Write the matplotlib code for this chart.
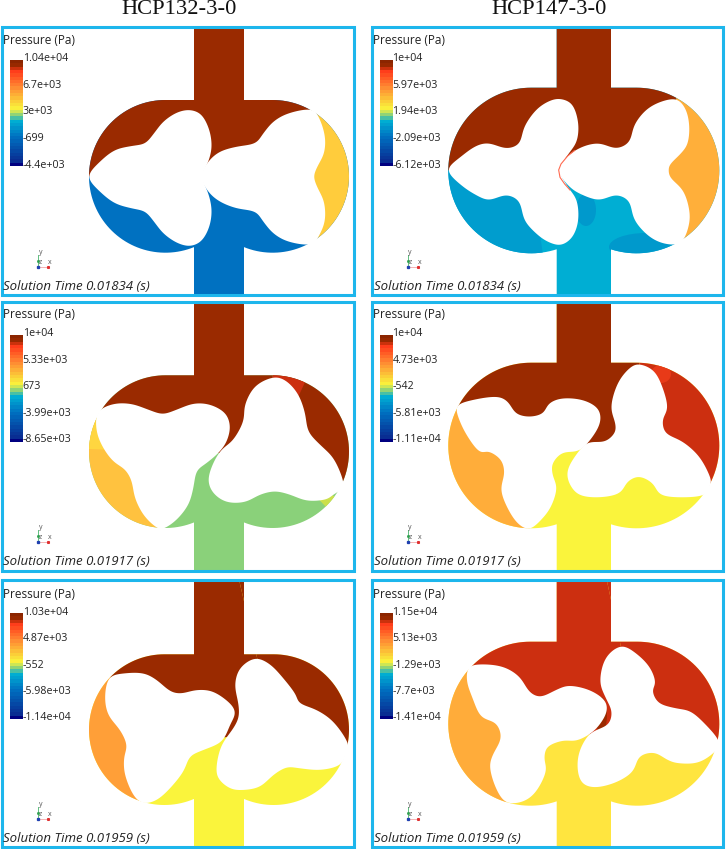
import numpy as np
import matplotlib
matplotlib.use('Agg')
import matplotlib.pyplot as plt
from matplotlib.colors import LinearSegmentedColormap
from matplotlib.patches import Polygon, Ellipse, Rectangle

# titles and legend text
titles = ['HCP132-3-0', 'HCP147-3-0']
title_x = [179.3, 549.3]
times = ['0.01834', '0.01917', '0.01959']
tick_labels = [
    [['1.04e+04', '6.7e+03', '3e+03', '-699', '-4.4e+03'],
     ['1e+04', '5.97e+03', '1.94e+03', '-2.09e+03', '-6.12e+03']],
    [['1e+04', '5.33e+03', '673', '-3.99e+03', '-8.65e+03'],
     ['1e+04', '4.73e+03', '-542', '-5.81e+03', '-1.11e+04']],
    [['1.03e+04', '4.87e+03', '-552', '-5.98e+03', '-1.14e+04'],
     ['1.15e+04', '5.13e+03', '-1.29e+03', '-7.7e+03', '-1.41e+04']],
]

# layout, in pixels
frame_x = [(1.7, 354), (372, 722.7)]
frame_y = [(26.5, 294.5), (302, 570.7), (580, 846.7)]
casing_x = [(89, 349), (448.3, 719.3)]
casing_y = [[(100, 252.7), (87.7, 253.3)],
            [(375.3, 528), (362.7, 528.3)],
            [(654.3, 805), (641.7, 805.7)]]
pipe_x = [(194, 244), (556.7, 611)]
contact = [[(201.7, 176.7), (558.7, 170.7)],
           [(218.3, 453), (582, 448.3)],
           [(225, 737.3), (588.7, 734.3)]]

crop_origin = [[(0, 20), (366, 20)], [(0, 298), (366, 300)], [(0, 575), (366, 575)]]
rotor_11_left = [(265, 470), (300, 425), (345, 390), (395, 378), (435, 370), (462, 340), (490, 305), (530, 278),
                 (570, 270), (605, 285), (628, 330), (635, 380), (625, 425), (606, 470), (625, 520), (635, 570),
                 (628, 620), (605, 662), (570, 678), (530, 668), (490, 640), (462, 605), (435, 575), (395, 565),
                 (345, 550), (300, 515)]
rotor_11_right = [(603, 470), (625, 425), (660, 395), (710, 380), (765, 370), (790, 340), (820, 305), (865, 280),
                  (932, 268), (958, 295), (975, 350), (972, 400), (952, 440), (942, 470), (952, 502), (972, 545),
                  (975, 600), (958, 645), (932, 674), (865, 665), (820, 640), (790, 605), (765, 575), (710, 565),
                  (660, 545), (625, 515)]
rotor_12_left = [(245, 450), (285, 410), (330, 378), (370, 370), (420, 385), (460, 370), (475, 320), (510, 270),
                 (550, 243), (585, 237), (620, 255), (637, 310), (632, 365), (605, 405), (580, 450), (605, 500),
                 (632, 540), (637, 600), (620, 650), (585, 675), (545, 665), (510, 640), (475, 600), (460, 545),
                 (420, 525), (370, 540), (330, 525), (285, 495)]
rotor_12_right = [(576, 450), (605, 408), (650, 380), (700, 370), (750, 385), (790, 365), (805, 315), (840, 270),
                  (885, 245), (932, 238), (960, 270), (970, 320), (965, 370), (945, 400), (915, 430), (908, 450),
                  (915, 475), (950, 510), (968, 560), (970, 610), (947, 667), (900, 672), (850, 650), (805, 600),
                  (790, 545), (750, 525), (700, 540), (650, 525), (610, 500)]
rotor_21_left = [(293, 343), (340, 318), (395, 318), (445, 335), (488, 348), (530, 335), (580, 317), (630, 320),
                 (675, 345), (690, 385), (680, 430), (655, 465), (620, 495), (590, 520), (580, 570), (565, 620),
                 (530, 665), (490, 692), (465, 685), (430, 650), (405, 600), (395, 550), (375, 515), (340, 490),
                 (310, 450), (290, 400)]
rotor_21_right = [(820, 238), (860, 250), (895, 290), (915, 345), (925, 400), (960, 440), (1000, 480), (1027, 540),
                  (1027, 570), (1000, 590), (975, 605), (920, 608), (870, 590), (825, 580), (780, 590), (735, 612),
                  (680, 612), (640, 585), (625, 545), (640, 495), (665, 455), (700, 425), (730, 370), (735, 320),
                  (765, 265)]
rotor_22_left = [(273, 318), (320, 300), (390, 290), (425, 305), (450, 340), (490, 350), (530, 340), (550, 310),
                 (590, 295), (650, 300), (695, 325), (703, 365), (680, 410), (640, 452), (590, 458), (560, 490),
                 (560, 525), (572, 565), (555, 620), (525, 660), (490, 687), (455, 670), (425, 625), (405, 570),
                 (415, 520), (405, 480), (370, 455), (340, 455), (305, 410), (280, 360)]
rotor_22_right = [(820, 193), (860, 210), (885, 250), (905, 320), (890, 360), (900, 400), (950, 425), (1000, 470),
                  (1032, 530), (1032, 555), (1015, 585), (950, 592), (885, 585), (860, 550), (820, 530), (785, 545),
                  (760, 580), (700, 592), (640, 585), (610, 550), (605, 510), (630, 465), (665, 428), (715, 425),
                  (745, 400), (748, 370), (735, 320), (755, 250), (790, 205)]
rotor_31_left = [(328, 308), (375, 295), (430, 295), (470, 315), (510, 348), (545, 355), (590, 345), (640, 350),
                 (690, 385), (705, 415), (690, 450), (665, 500), (610, 525), (570, 545), (550, 590), (510, 640),
                 (470, 675), (430, 684), (400, 660), (375, 600), (372, 550), (380, 510), (360, 465), (325, 420),
                 (315, 365)]
rotor_31_right = [(765, 250), (810, 268), (850, 310), (885, 355), (900, 385), (950, 405), (1000, 440), (1042, 500),
                  (1040, 530), (1020, 570), (960, 585), (900, 580), (860, 577), (820, 600), (780, 635), (730, 645),
                  (690, 640), (655, 610), (650, 570), (665, 510), (700, 460), (716, 425), (715, 385), (705, 330),
                  (720, 280)]
rotor_32_left = [(308, 278), (345, 268), (410, 275), (460, 305), (490, 350), (525, 365), (570, 345), (610, 332),
                 (670, 345), (715, 375), (722, 410), (700, 450), (670, 478), (630, 497), (590, 497), (545, 515),
                 (535, 550), (540, 590), (510, 650), (470, 680), (420, 682), (390, 640), (372, 580), (380, 540),
                 (405, 490), (390, 445), (345, 425), (320, 370), (303, 320)]
rotor_32_right = [(765, 213), (810, 235), (850, 275), (868, 320), (860, 350), (880, 385), (930, 400), (975, 410),
                  (1020, 450), (1057, 495), (1052, 525), (1000, 562), (940, 565), (905, 555), (865, 533), (820, 545),
                  (800, 590), (750, 622), (690, 637), (650, 625), (635, 585), (640, 530), (672, 475), (725, 450),
                  (737, 410), (720, 370), (702, 320), (718, 250)]
rotors = [[(rotor_11_left, rotor_11_right), (rotor_12_left, rotor_12_right)],
          [(rotor_21_left, rotor_21_right), (rotor_22_left, rotor_22_right)],
          [(rotor_31_left, rotor_31_right), (rotor_32_left, rotor_32_right)]]
contact_arc_12 = [(625, 392), (605, 408), (585, 432), (578, 450), (582, 472), (596, 492), (612, 510)]

# chamber boundaries (degrees) and colours
left_wedge = [[(180, 180), (180, 278)],
              [(150, 266), (152, 269)],
              [(136, 254), (138, 253)]]
right_wedge = [[(-61, 61), (-58, 61)],
               [(-25, 90), (-29, 88)],
               [(-12, 103), (-15, 102)]]
BROWN = '#9A2A00'
RED = '#CC2F10'
top_color = [[BROWN, BROWN], [BROWN, BROWN], [BROWN, RED]]
bottom_color = [['#0071C1', '#00AED3'], ['#8AD17A', '#FAF43C'], ['#FAF43C', '#FFE53F']]
left_color = [['#0071C1', '#009DCE'], ['#FFC23F', '#FFAD3A'], ['#FF9F38', '#FFAC3A']]
right_color = [['#FFCC3C', '#FFAF3A'], [BROWN, RED], [BROWN, RED]]

# small patches of other pressure inside a chamber
extras = {
    (0, 1): [('ell', 646, 247, 74, 28, '#0099CC'), ('ell', 586, 210, 20, 32, '#0099CC')],
    (1, 0): [('wedge', 'L', 150, 178, '#FFD640'), ('wedge', 'R', 65, 90, RED),
             ('wedge', 'R', -46, -36, '#CBE04A')],
    (1, 1): [('ell', 661, 374, 20, 18, '#E83A18')],
    (2, 1): [('ell', 601, 715, 12, 36, BROWN)],
}

# colour bar
bar_stops = [0, .02, .27, .42, .48, .54, .75, .91, .96, 1]
bar_colors = ['#000080', '#0A2A90', '#0071C1', '#00AED3', '#8AD17A', '#FAF43C',
              '#FF8A33', '#FF3A1A', '#9A2A00', '#8B2500']
label_y = [40, 315, 594]
bar_y = [(60, 166), (335, 441.5), (613.5, 719)]
tick_y = [(58.5, 165), (333.7, 439.7), (612.3, 717.7)]
time_y = [286.7, 561.5, 838.3]
bar_x = [(10, 22.7), (380.3, 392.5)]
triad_x = [38.3, 408]
triad_y = [267.3, 542.3, 819.3]


def polar(cx, cy, r, deg):
    a = np.radians(deg)
    return cx + r * np.cos(a), cy - r * np.sin(a)


def smooth_closed(pts, n=12, win=15):
    # closed Catmull-Rom through the traced points, then a light moving average
    p = np.array(pts, dtype=float)
    out = []
    t = np.linspace(0, 1, n, endpoint=False)[:, None]
    for i in range(len(p)):
        p0, p1, p2, p3 = p[i - 1], p[i], p[(i + 1) % len(p)], p[(i + 2) % len(p)]
        out.append(0.5 * (2 * p1 + (p2 - p0) * t + (2 * p0 - 5 * p1 + 4 * p2 - p3) * t ** 2
                          + (3 * p1 - p0 - 3 * p2 + p3) * t ** 3))
    curve = np.vstack(out)
    w = np.hanning(win + 2)[1:-1]
    w = w / w.sum()
    wrapped = np.vstack([curve[-win:], curve, curve[:win]])
    xs = np.convolve(wrapped[:, 0], w, mode='same')[win:-win]
    ys = np.convolve(wrapped[:, 1], w, mode='same')[win:-win]
    return np.column_stack([xs, ys])


def casing_outline(x0, x1, y0, y1, px, fy):
    R = (y1 - y0) / 2
    cy = (y0 + y1) / 2
    lx, rx = x0 + R, x1 - R
    # bottom of the casing meets the pipe where the circles reach its walls
    a_r = np.degrees(np.arcsin(np.clip((rx - px[1]) / R, -1, 1)))
    a_l = np.degrees(np.arcsin(np.clip((px[0] - lx) / R, -1, 1)))
    pts = [(lx, y0), (px[0], y0), (px[0], fy[0]), (px[1], fy[0]), (px[1], y0), (rx, y0)]
    d = np.linspace(90, -90 - a_r, 80)
    pts += list(zip(*polar(rx, cy, R, d)))
    pts += [(px[1], fy[1]), (px[0], fy[1])]
    d = np.linspace(-90 + a_l, -270, 80)
    pts += list(zip(*polar(lx, cy, R, d)))
    return pts


def sector(cx, cy, a, b):
    d = np.linspace(a, b, 40)
    x, y = polar(cx, cy, 600, d)
    return [(cx, cy)] + list(zip(x, y))


cmap = LinearSegmentedColormap.from_list('pressure', list(zip(bar_stops, bar_colors)), N=32)

fig = plt.figure(figsize=(7.26, 8.49), dpi=100)
ax = fig.add_axes([0, 0, 1, 1])
gradient = np.linspace(1, 0, 64).reshape(-1, 1)

for r in range(3):
    for c in range(2):
        x0, x1 = casing_x[c]
        y0, y1 = casing_y[r][c]
        R = (y1 - y0) / 2
        cy = (y0 + y1) / 2
        lx, rx = x0 + R, x1 - R
        fx, fy = frame_x[c], frame_y[r]
        org = np.array(crop_origin[r][c], dtype=float)

        clip = Polygon(casing_outline(x0, x1, y0, y1, pipe_x[c], fy), closed=True,
                       fill=False, edgecolor='none', zorder=1)
        ax.add_patch(clip)

        # lower chamber, then upper chamber and pipe
        patches = [Rectangle((fx[0], fy[0]), fx[1] - fx[0], fy[1] - fy[0],
                             facecolor=bottom_color[r][c], edgecolor='none', zorder=1)]
        ul = left_wedge[r][c][0]
        ur = right_wedge[r][c][1]
        top = [(lx, cy), polar(lx, cy, 600, ul), (lx - 700, -600), (rx + 700, -600),
               polar(rx, cy, 600, ur), (rx, cy), contact[r][c]]
        patches.append(Polygon(top, closed=True, facecolor=top_color[r][c], edgecolor='none', zorder=2))
        a, b = left_wedge[r][c]
        if a != b:
            patches.append(Polygon(sector(lx, cy, a, b), closed=True, facecolor=left_color[r][c],
                                   edgecolor='none', zorder=2))
        a, b = right_wedge[r][c]
        patches.append(Polygon(sector(rx, cy, a, b), closed=True, facecolor=right_color[r][c],
                               edgecolor='none', zorder=2))

        for e in extras.get((r, c), []):
            if e[0] == 'ell':
                patches.append(Ellipse((e[1], e[2]), e[3], e[4], facecolor=e[5], edgecolor='none', zorder=3))
            else:
                ox = lx if e[1] == 'L' else rx
                patches.append(Polygon(sector(ox, cy, e[2], e[3]), closed=True, facecolor=e[4],
                                       edgecolor='none', zorder=3))
        for p in patches:
            ax.add_patch(p)
            p.set_clip_path(clip)

        # white rotors over the fluid
        for outline in rotors[r][c]:
            xy = org + smooth_closed(outline) / 3
            ax.fill(xy[:, 0], xy[:, 1], color='white', lw=0, zorder=4)
        if (r, c) == (0, 1):
            arc = org + np.array(contact_arc_12, dtype=float) / 3
            ax.plot(arc[:, 0], arc[:, 1], color='#FF6A50', lw=0.8, zorder=5)

        # frame
        ax.add_patch(Rectangle((fx[0], fy[0]), fx[1] - fx[0], fy[1] - fy[0], fill=False,
                               edgecolor='#1DB6EC', lw=2.2, zorder=6))

        # legend
        ax.text(fx[0] + 1, label_y[r], 'Pressure (Pa)', family='Open Sans', fontsize=8.5,
                color='#222222', va='center', ha='left', zorder=7)
        bx, by = bar_x[c], bar_y[r]
        ax.imshow(gradient, cmap=cmap, vmin=0, vmax=1, aspect='auto', interpolation='nearest',
                  extent=(bx[0], bx[1], by[1], by[0]), zorder=7)
        ty = np.linspace(tick_y[r][0], tick_y[r][1], 5)
        for lab, y in zip(tick_labels[r][c], ty):
            ax.text(bx[1], y, lab, family='Open Sans', fontsize=7.7, color='#222222',
                    va='center', ha='left', zorder=7)
        ax.text(fx[0] + 1.5, time_y[r], f'Solution Time {times[r]} (s)', family='Open Sans',
                style='italic', fontsize=9.5, color='#222222', va='center', ha='left', zorder=7)

        # coordinate triad
        ox, oy = triad_x[c], triad_y[r]
        ax.plot([ox, ox + 10], [oy, oy], color='#F5B5B5', lw=0.7, zorder=7)
        ax.plot([ox, ox], [oy, oy - 12], color='#60C080', lw=0.7, zorder=7)
        ax.plot([ox + 10], [oy], marker='s', ms=1.2, color='#E03030', zorder=7)
        ax.plot([ox], [oy - 6], marker='s', ms=1.0, color='#30A050', zorder=7)
        ax.plot([ox], [oy], marker='s', ms=1.4, color='#2040B0', zorder=7)
        for lab, dx, dy in [('x', 11.5, -4.5), ('y', 2, -14.5), ('z', 2, -4.5)]:
            ax.text(ox + dx, oy + dy, lab, family='Open Sans', fontsize=5, color='#555555',
                    va='center', ha='center', zorder=7)

for c, t in enumerate(titles):
    ax.text(title_x[c], 9.5, t, family='Liberation Serif', fontsize=16.2, color='#111111',
            ha='center', va='center')

ax.set_xlim(0, 726)
ax.set_ylim(849, 0)
ax.axis('off')
fig.savefig('out.png', dpi=100, facecolor='white')
